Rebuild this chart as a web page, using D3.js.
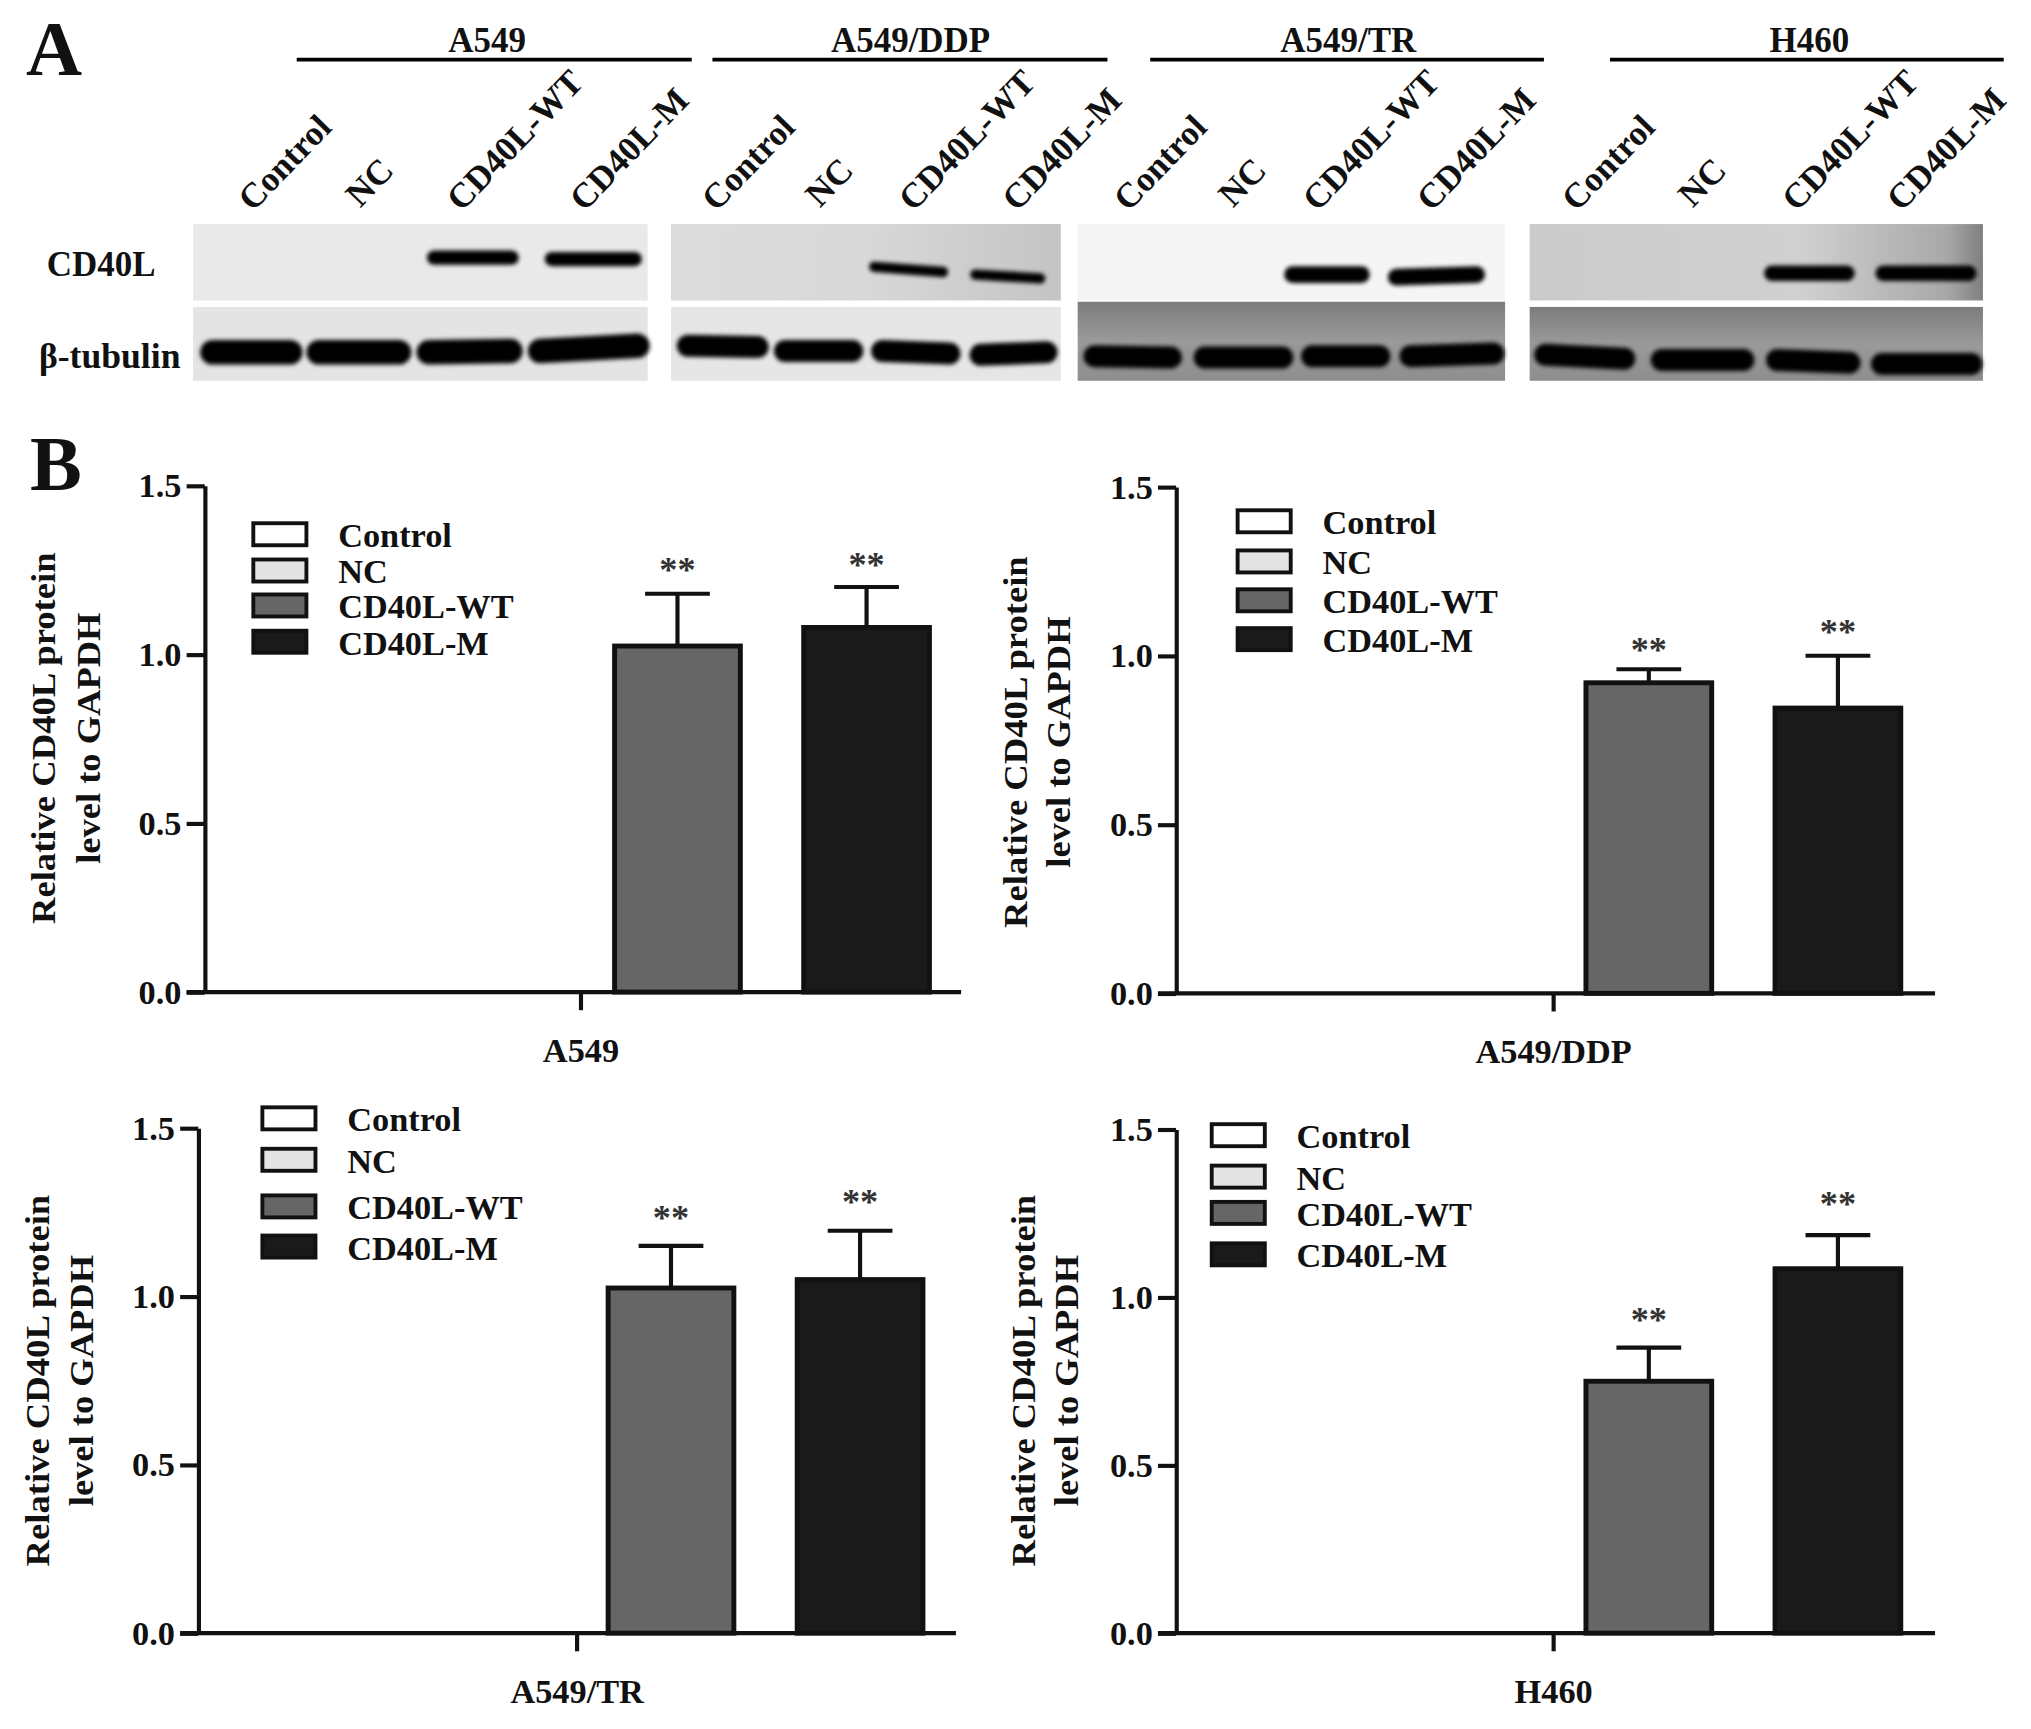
<!DOCTYPE html>
<html><head><meta charset="utf-8">
<script src="https://cdnjs.cloudflare.com/ajax/libs/d3/7.8.5/d3.min.js"></script>
<style>html,body{margin:0;background:#fff}svg{display:block}text{font-family:"Liberation Serif",serif;font-weight:bold;fill:#111}</style>
</head><body><svg id="c" width="2031" height="1729" viewBox="0 0 1568 1335"></svg>
<script>
// ---- data ----
const groups = ["Control","NC","CD40L-WT","CD40L-M"];
const cellLines = ["A549","A549/DDP","A549/TR","H460"];
const fills = ["#ffffff","#e4e4e4","#666666","#1a1a1a"];
const yTicks = [0,0.5,1.0,1.5];
const meanA549 = [0,0,1.025,1.08];
const errA549  = [0,0,1.18,1.20];
const meanDDP  = [0,0,0.92,0.845];
const errDDP   = [0,0,0.96,1.00];
const meanTR   = [0,0,1.025,1.05];
const errTR    = [0,0,1.15,1.195];
const meanH460 = [0,0,0.75,1.085];
const errH460  = [0,0,0.85,1.185];
const signalCD40L = [0,0,1,1];
const signalTubulin = [1,1,1,1];
const yLabel1 = "Relative CD40L protein", yLabel2 = "level to GAPDH";
const stars = "**";

// ---- layout ----
const svg = d3.select("#c");
const panels = [
 {name:cellLines[0],mean:meanA549,err:errA549,x0:158,xR:742,yT:375,y0:766,lab:[33,68],labY:570,leg:[194,[403,431,458,486],261],starGap:[0,0,7,6],lx:447},
 {name:cellLines[1],mean:meanDDP,err:errDDP,x0:908,xR:1494,yT:376,y0:767,lab:[784,817],labY:573,leg:[954,[393,424,454,484],1021],starGap:[0,0,4,7],lx:1198},
 {name:cellLines[2],mean:meanTR,err:errTR,x0:153,xR:738,yT:871,y0:1261,lab:[29,63],labY:1066,leg:[201,[854,886,922,953],268],starGap:[0,0,10,11],lx:444},
 {name:cellLines[3],mean:meanH460,err:errH460,x0:908,xR:1494,yT:872,y0:1261,lab:[790,823],labY:1066,leg:[934,[867,899,927,959],1001],starGap:[0,0,10,13],lx:1198}
];
const blots = [
 {name:cellLines[0],x:149,w:351,line:[229,534],textX:376,
  sampleX:[190,273,351,446],
  top:[null,null,[335,199,395,199],[426,200,490,200]],
  bot:[[164,272,224,272],[246,272,308,272],[331,272,394,271],[417,271,492,267]],tw:11,bw:19},
 {name:cellLines[1],x:518,w:301,line:[550,855],textX:703,
  sampleX:[548,628,700,780],
  top:[null,null,[675,206,728,210],[753,212,803,215]],
  bot:[[531,267,585,268],[606,271,658,271],[681,271,733,273],[757,274,808,272]],tw:8,bw:17},
 {name:cellLines[2],x:832,w:330,line:[888,1192],textX:1041,
  sampleX:[866,947,1012,1100],
  top:[null,null,[998,212,1051,212],[1078,214,1140,212]],
  bot:[[845,275,904,276],[930,276,990,276],[1013,275,1065,275],[1089,275,1153,273]],tw:13,bw:17},
 {name:cellLines[3],x:1181,w:350,line:[1243,1547],textX:1397,
  sampleX:[1212,1302,1382,1463],
  top:[null,null,[1368,211,1426,211],[1454,211,1520,211]],
  bot:[[1193,274,1254,277],[1283,278,1346,278],[1372,278,1428,280],[1453,281,1522,281]],tw:12,bw:17}
];
const blotFills = [["#e9e9e9","#e4e4e4"],["url(#ddpTop)","#e6e6e6"],["#f5f5f5","url(#darkBot)"],["url(#h460top)","url(#darkBot)"]];

// ---- defs ----
const defs = svg.append("defs");
defs.append("filter").attr("id","blurBand").attr("filterUnits","userSpaceOnUse")
  .attr("x",0).attr("y",0).attr("width",1568).attr("height",400)
  .append("feGaussianBlur").attr("stdDeviation",1.8);
const stops=(id,arr,vertical)=>{
  const gr=defs.append("linearGradient").attr("id",id);
  if(vertical) gr.attr("x2",0).attr("y2",1);
  arr.forEach(s=>gr.append("stop").attr("offset",s[0]).attr("stop-color",s[1]));
};
stops("h460top",[[0,"#cbcbcb"],[0.6,"#d0d0d0"],[0.92,"#a8a8a8"],[1,"#808080"]]);
stops("ddpTop",[[0,"#dcdcdc"],[0.5,"#d8d8d8"],[1,"#c4c4c4"]]);
stops("darkBot",[[0,"#7c7c7c"],[0.5,"#9a9a9a"],[1,"#8e8e8e"]],true);

// ---- panel A ----
svg.append("text").attr("x",20).attr("y",58).attr("font-size",60).text("A");
svg.append("text").attr("x",23).attr("y",378).attr("font-size",60).text("B");
blots.forEach((b,bi)=>{
  const g = svg.append("g");
  g.append("text").attr("x",b.textX).attr("y",40).attr("text-anchor","middle").attr("font-size",27).text(b.name);
  g.append("line").attr("x1",b.line[0]).attr("x2",b.line[1]).attr("y1",46).attr("y2",46).attr("stroke","#000").attr("stroke-width",3);
  groups.forEach((s,i)=>{
    const x=b.sampleX[i]+5, y=(i===1?160:163)+1;
    g.append("text").attr("transform",`translate(${x},${y}) rotate(-46)`).attr("font-size",27).text(s);
  });
  g.append("rect").attr("x",b.x).attr("y",173).attr("width",b.w).attr("height",59).attr("fill",blotFills[bi][0]);
  g.append("rect").attr("x",b.x).attr("y",bi===2?233:237).attr("width",b.w).attr("height",bi===2?61:57).attr("fill",blotFills[bi][1]);
  const bands=(sig,geo,w)=>sig.forEach((v,i)=>{
    if(!v) return;
    const p=geo[i];
    g.append("line").attr("x1",p[0]).attr("y1",p[1]).attr("x2",p[2]).attr("y2",p[3])
      .attr("stroke","#050505").attr("stroke-opacity",v).attr("stroke-width",w)
      .attr("stroke-linecap","round").attr("filter","url(#blurBand)");
  });
  bands(signalCD40L,b.top,b.tw);
  bands(signalTubulin,b.bot,b.bw);
});
svg.append("text").attr("x",36).attr("y",213).attr("font-size",27).text("CD40L");
svg.append("text").attr("x",30).attr("y",284).attr("font-size",27.5).text("β-tubulin");

// ---- panel B ----
panels.forEach(p=>{
  const g = svg.append("g");
  const x = d3.scaleBand().domain(groups).range([p.x0,p.x0+584]).paddingInner(0.335).paddingOuter(0.1675);
  const y = d3.scaleLinear().domain([0,1.5]).range([p.y0,p.yT]);
  const barW = x.bandwidth();
  // error bars
  groups.forEach((c,i)=>{
    if(!p.mean[i]) return;
    const cx = x(c)+barW/2;
    g.append("line").attr("x1",cx).attr("x2",cx).attr("y1",y(p.mean[i])).attr("y2",y(p.err[i])).attr("stroke","#111").attr("stroke-width",3.2);
    g.append("line").attr("x1",cx-25).attr("x2",cx+25).attr("y1",y(p.err[i])).attr("y2",y(p.err[i])).attr("stroke","#111").attr("stroke-width",3.2);
    g.append("text").attr("x",cx).attr("y",y(p.err[i])-2-p.starGap[i]).attr("text-anchor","middle").attr("font-size",28).style("fill","#333").text(stars);
  });
  // bars
  g.selectAll(".bar").data(groups).join("rect")
    .attr("x",c=>x(c)).attr("width",barW)
    .attr("y",(c,i)=>y(p.mean[i])).attr("height",(c,i)=>y(0)-y(p.mean[i]))
    .attr("fill",(c,i)=>fills[i]).attr("stroke",(c,i)=>p.mean[i]?"#111":"none").attr("stroke-width",3.8);
  // axes
  const ay = g.append("g").attr("transform",`translate(${p.x0},0)`)
    .call(d3.axisLeft(y).tickValues(yTicks).tickFormat(d3.format(".1f")).tickSize(14).tickSizeOuter(0));
  const ax = g.append("g").attr("transform",`translate(0,${p.y0})`)
    .call(d3.axisBottom(d3.scalePoint().domain([p.name]).range([p.lx+1,p.lx+1]))
      .tickSize(14).tickSizeOuter(0).tickPadding(21));
  ax.select(".domain").remove();
  ax.append("line").attr("x1",p.x0-14).attr("x2",p.xR).attr("stroke","#111").attr("stroke-width",3.5);
  [ay,ax].forEach(a=>{
    a.selectAll("path,line").attr("stroke","#111").attr("stroke-width",3.2);
    a.selectAll("text").attr("font-size",26.5).attr("font-family",null).style("fill","#111");
  });
  ay.selectAll("text").attr("dx",-1);
  // y title
  [[yLabel1,287],[yLabel2,194]].forEach((t,i)=>{
    g.append("text").attr("transform",`translate(${p.lab[i]+9},${p.labY}) rotate(-90)`)
      .attr("text-anchor","middle").attr("font-size",26)
      .attr("textLength",t[1]).attr("lengthAdjust","spacingAndGlyphs").text(t[0]);
  });
  // legend
  groups.forEach((c,i)=>{
    g.append("rect").attr("x",p.leg[0]+1.5).attr("y",p.leg[1][i]+1).attr("width",41).attr("height",17)
      .attr("fill",fills[i]).attr("stroke","#111").attr("stroke-width",3);
    g.append("text").attr("x",p.leg[2]).attr("y",p.leg[1][i]+19.5).attr("font-size",26.5).text(c);
  });
});
</script></body></html>
